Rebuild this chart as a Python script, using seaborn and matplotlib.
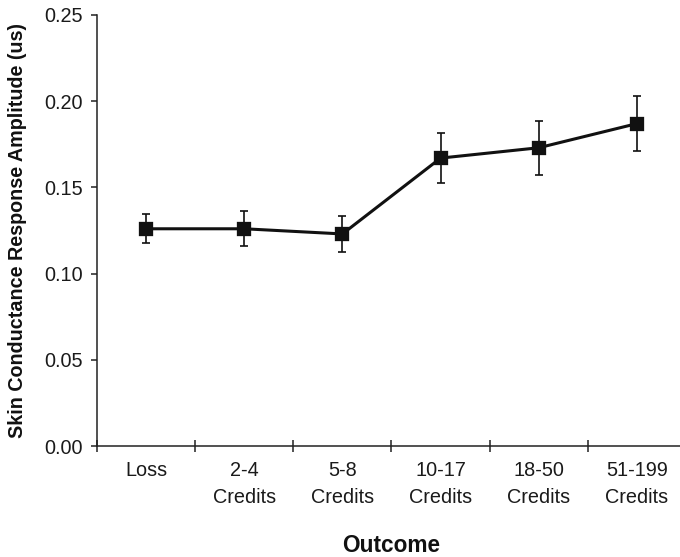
import matplotlib
matplotlib.use("Agg")
import matplotlib.pyplot as plt
import numpy as np
import pandas as pd
import seaborn as sns

# Mean skin conductance response amplitude by outcome size, with SEM
outcomes = ["Loss", "2-4\nCredits", "5-8\nCredits", "10-17\nCredits",
            "18-50\nCredits", "51-199\nCredits"]
amplitude = [0.126, 0.126, 0.123, 0.167, 0.173, 0.187]
sem = [0.0083, 0.0102, 0.0103, 0.0147, 0.0157, 0.0160]

df = pd.DataFrame({"Outcome": outcomes, "amplitude": amplitude, "sem": sem})

sns.set_style("ticks")
plt.rcParams["font.family"] = ["Liberation Sans", "DejaVu Sans"]

fig = plt.figure(figsize=(6.8, 5.57), dpi=100)
ax = fig.add_axes([97 / 680, 1 - 446 / 557, 589 / 680, 431 / 557])

sns.pointplot(data=df, x="Outcome", y="amplitude", errorbar=None,
              color="#111111", markers="s", linestyles="-", ax=ax,
              markersize=8, linewidth=2.2)
ax.errorbar(np.arange(len(outcomes)), df["amplitude"], yerr=df["sem"],
            fmt="none", ecolor="#111111", elinewidth=1.2, capsize=2.9,
            capthick=1.2, zorder=1)

ax.set_xlim(-0.5, len(outcomes) - 0.5)
ax.set_ylim(0, 0.25)
ax.set_yticks(np.arange(0, 0.251, 0.05))
ax.set_yticklabels([f"{v:.2f}" for v in np.arange(0, 0.251, 0.05)])

# category boundaries as tick marks, labels centred between them
ax.set_xticks(np.arange(-0.5, len(outcomes), 1.0))
ax.set_xticklabels([])
ax.set_xticks(np.arange(len(outcomes)), minor=True)
ax.set_xticklabels(outcomes, minor=True, fontsize=14.3, linespacing=1.55,
                   color="#1a1a1a")
ax.tick_params(axis="x", which="major", direction="inout", length=8.6,
               width=1.1, color="#222222")
ax.tick_params(axis="x", which="minor", length=0, pad=10.5)
ax.tick_params(axis="y", direction="out", length=4.3, width=1.1,
               color="#222222", labelsize=14.3, labelcolor="#1a1a1a", pad=6)

for side in ["top", "right"]:
    ax.spines[side].set_visible(False)
for side in ["left", "bottom"]:
    ax.spines[side].set_linewidth(1.1)
    ax.spines[side].set_color("#222222")

ax.set_xlabel("")
ax.set_ylabel("Skin Conductance Response Amplitude (us)", fontsize=14.2,
              fontweight="bold", color="#111111")
ax.yaxis.set_label_coords(-(97 - 27) / 589, 0.501)
fig.text(391 / 680, 1 - 545 / 557, "Outcome", ha="center", va="center",
         fontsize=16.3, fontweight="bold", color="#111111")

fig.savefig("out.png", dpi=100)
